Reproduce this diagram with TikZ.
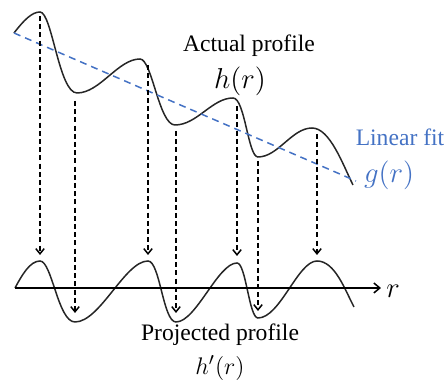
\documentclass[tikz,border=0pt]{standalone}
\usepackage{fontspec}
\setmainfont{Liberation Serif}
\usetikzlibrary{arrows.meta}

\definecolor{fitblue}{RGB}{68,114,196}

\tikzset{
  curve/.style={line width=0.75pt, black!85},
  proj/.style={line width=0.75pt, dash pattern=on 2.5pt off 1.6pt, -{Straight Barb[length=2.6pt, width=4.2pt]}},
  fitline/.style={line width=0.75pt, fitblue, dash pattern=on 3.5pt off 2.5pt},
  lbl/.style={inner sep=0pt, font=\fontsize{11.8}{14}\selectfont},
  mlbl/.style={inner sep=0pt, font=\fontsize{13.5}{16}\selectfont}
}

\begin{document}
\begin{tikzpicture}[x=0.5pt, y=-0.5pt]
\useasboundingbox (0,0) rectangle (447,383);

% actual profile
\draw[curve] (14,33) .. controls (24,20) and (32,12) .. (40,12)
  .. controls (52,12) and (59,93) .. (77,93)
  .. controls (100,93) and (118,59) .. (140,59)
  .. controls (152,59) and (159,125) .. (175,125)
  .. controls (197,125) and (212,98) .. (233,98)
  .. controls (245,98) and (248,157) .. (258,157)
  .. controls (278,157) and (292,128) .. (312,128)
  .. controls (330,128) and (343,165) .. (353,185);

% linear fit
\coordinate (fit0) at (14,33);
\coordinate (fit1) at (356,181);
\draw[fitline] (fit0) -- (fit1);

% projected profile
\draw[curve] (15,288) .. controls (22,275) and (30,261) .. (40,261)
  .. controls (52,261) and (58,322) .. (75,322)
  .. controls (100,322) and (125,261) .. (148,261)
  .. controls (160,261) and (163,322) .. (176,322)
  .. controls (196,322) and (218,263) .. (237,263)
  .. controls (246,263) and (249,318) .. (258,318)
  .. controls (280,318) and (298,261) .. (317,261)
  .. controls (335,261) and (345,290) .. (354,307);

% axis
\coordinate (ax0) at (15,288);
\coordinate (ax1) at (381,288);
\draw[line width=0.75pt, -{Straight Barb[length=3pt, width=5pt]}] (ax0) -- (ax1);

% projections
\foreach \n/\px/\ytop/\ybot in {1/40/16/255, 2/75/101/313, 3/148/65/255, 4/176/131/313,
                              5/237/106/256, 6/258/161/311, 7/317/134/255} {
  \coordinate (top\n) at (\px,\ytop);
  \coordinate (bot\n) at (\px,\ybot);
  \draw[proj] (top\n) -- (bot\n);
}

% labels
\node[lbl] (actual) at (249,46) {Actual profile};
\node[mlbl] (hlab) at (240,81) {$h(r)$};
\node[lbl, text=fitblue] (linfit) at (400,137) {Linear fit};
\node[mlbl, text=fitblue] (glab) at (389,175) {$g(r)$};
\node[mlbl] (rlab) at (393,291) {$r$};
\node[lbl] (projected) at (220,335) {Projected profile};
\node[mlbl, font=\fontsize{13}{15}\selectfont] (hplab) at (220,368) {$h'(r)$};
\end{tikzpicture}
\end{document}
